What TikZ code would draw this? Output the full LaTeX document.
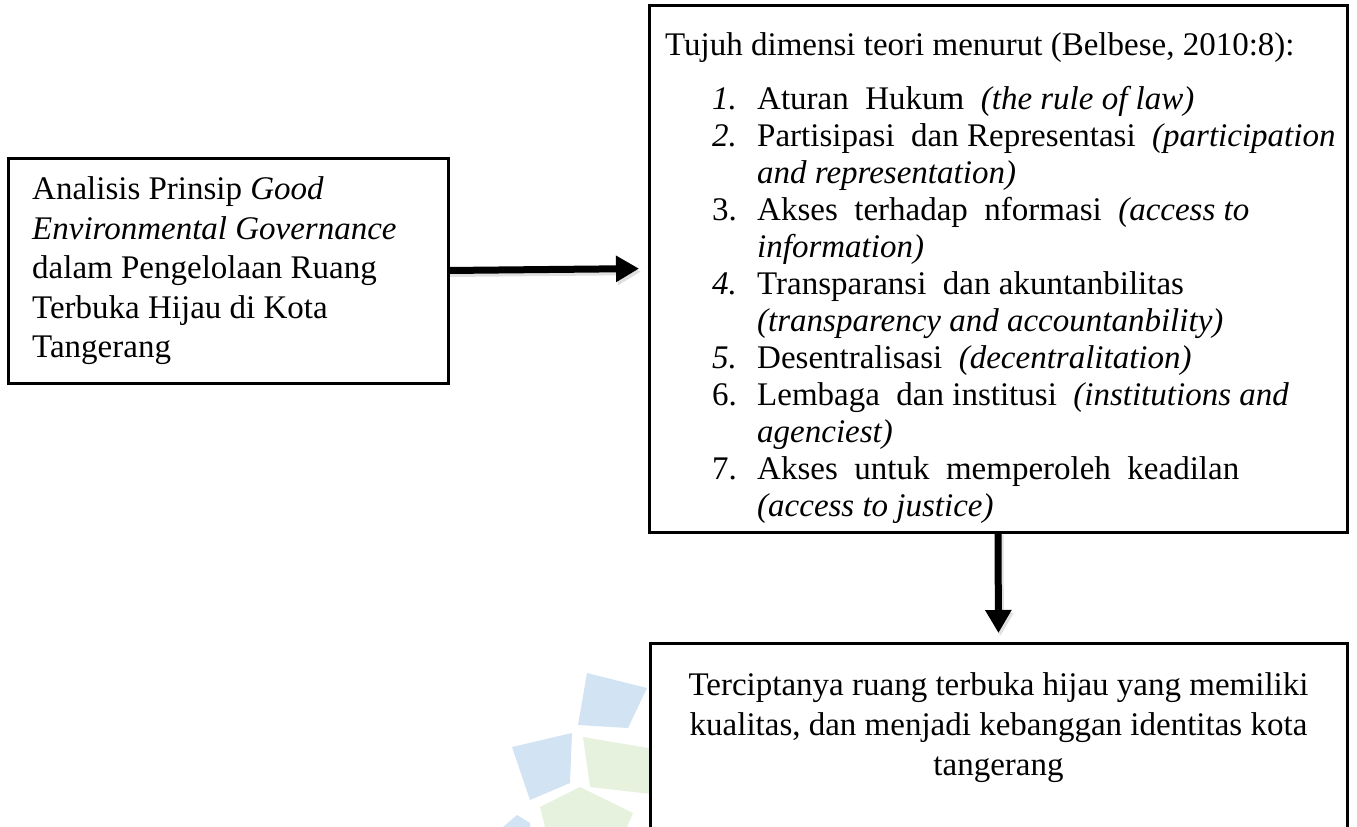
\documentclass[tikz,border=0pt]{standalone}
\usepackage{fontspec}
\setmainfont{Liberation Serif}
\usetikzlibrary{arrows.meta}
\definecolor{wmblue}{RGB}{210,228,244}
\definecolor{wmgreen}{RGB}{230,241,222}
\begin{document}
\begin{tikzpicture}[x=1pt,y=-1pt,
  box/.style={draw=black, line width=3pt, fill=white, inner sep=0pt, outer sep=0pt},
  bigarrow/.style={line width=7pt, -{Triangle[length=23pt,width=25pt]}},
  shadowarrow/.style={bigarrow, draw=black!12, transform canvas={shift={(2pt,-3pt)}}},
  ltxt/.style={anchor=north west, inner sep=0pt, align=left, font=\fontsize{33}{39.5}\selectfont},
  mtxt/.style={anchor=north west, inner sep=0pt, align=left, font=\fontsize{33}{37}\selectfont},
  btxt/.style={anchor=north, inner sep=0pt, align=center, font=\fontsize{33}{40}\selectfont},
]
\useasboundingbox (0,0) rectangle (1357,827);
\clip (0,0) rectangle (1357,827);
\fill[white] (0,0) rectangle (1357,827);

% watermark
\fill[wmblue] (587,673) -- (647,688) -- (628,728) -- (578,725) -- cycle;
\fill[wmblue] (512,747) -- (572,733) -- (570,783) -- (530,800) -- cycle;
\fill[wmgreen] (583,737) -- (660,750) -- (660,795) -- (590,787) -- cycle;
\fill[wmgreen] (540,807) -- (580,787) -- (633,813) -- (627,827) -- (545,827) -- cycle;
\fill[wmblue] (503,827) -- (517,815) -- (530,823) -- (530,827) -- cycle;

% boxes
\node[box, minimum width=440pt, minimum height=225pt] (left) at (228,270.5) {};
\node[box, minimum width=698pt, minimum height=527pt] (mid) at (998,268.5) {};
\node[box, minimum width=697pt, minimum height=200pt] (bot) at (998.5,743) {};

% connectors
\draw[shadowarrow, shorten >=10pt] (left.east) -- (mid.west);
\draw[bigarrow, shorten >=10pt] (left.east) -- (mid.west);
\draw[shadowarrow, shorten >=10pt] (mid.south) -- (bot.north);
\draw[bigarrow, shorten >=10pt] (mid.south) -- (bot.north);

% texts
\node[ltxt] (lefttxt) at (32,172) {\strut Analisis Prinsip \textit{Good}\\
  \strut\textit{Environmental Governance}\\
  \strut dalam Pengelolaan Ruang\\
  \strut Terbuka Hijau di Kota\\
  \strut Tangerang};

\node[mtxt] (midhead) at (665,29) {\strut Tujuh dimensi teori menurut (Belbese, 2010:8):};

\node[mtxt] (midlist) at (712,83) {\fontsize{33}{37}\selectfont
  \begin{tabular}{@{}p{45pt}@{}l@{}}
  \textit{1.} & Aturan\ \ Hukum\ \ \textit{(the rule of law)}\\
  \textit{2.} & Partisipasi\ \ dan Representasi\ \ \textit{(participation}\\
   & \textit{and representation)}\\
  3. & Akses\ \ terhadap\ \ nformasi\ \ \textit{(access to}\\
   & \textit{information)}\\
  \textit{4.} & Transparansi\ \ dan akuntanbilitas\\
   & \textit{(transparency and accountanbility)}\\
  \textit{5.} & Desentralisasi\ \ \textit{(decentralitation)}\\
  6. & Lembaga\ \ dan institusi\ \ \textit{(institutions and}\\
   & \textit{agenciest)}\\
  7. & Akses\hspace{0.5em}untuk\hspace{0.5em}memperoleh\hspace{0.5em}keadilan\\
   & \textit{(access to justice)}
  \end{tabular}};

\node[btxt] (bottxt) at (998.5,667) {\strut Terciptanya ruang terbuka hijau yang memiliki\\
  \strut kualitas, dan menjadi kebanggan identitas kota\\
  \strut tangerang};
\end{tikzpicture}
\end{document}
